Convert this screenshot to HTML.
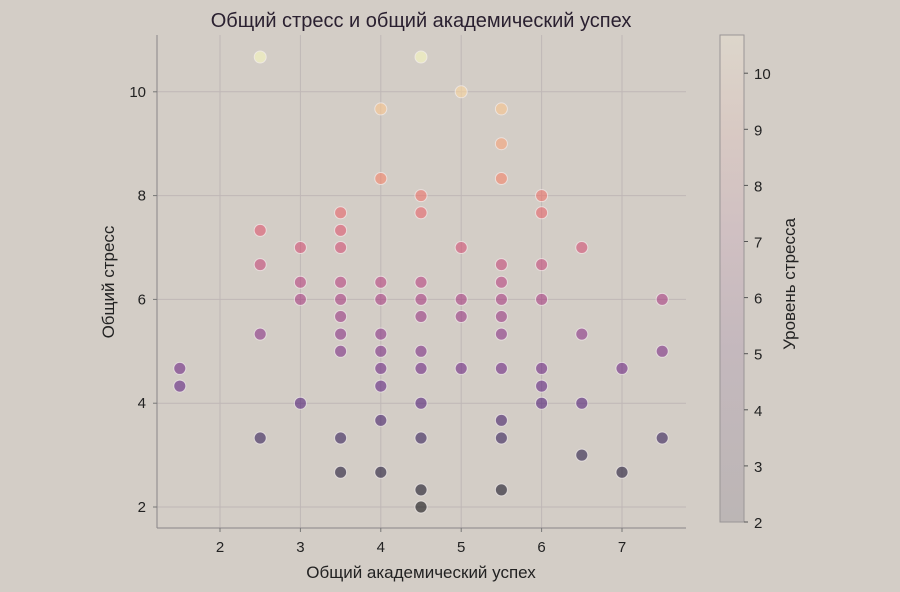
<!DOCTYPE html>
<html><head><meta charset="utf-8"><style>
body{margin:0;background:#d3cdc6;}
svg{display:block;font-family:"Liberation Sans","DejaVu Sans",sans-serif;}
</style></head><body>
<svg id="s" width="900" height="592" xmlns="http://www.w3.org/2000/svg">
<defs><linearGradient id="cb" x1="0" y1="1" x2="0" y2="0">
<stop offset="0" stop-color="#bcb6b5"/><stop offset="0.35" stop-color="#c4b8bd"/>
<stop offset="0.6" stop-color="#d0c0c2"/><stop offset="0.8" stop-color="#d8c9c3"/>
<stop offset="1" stop-color="#ddd6cb"/></linearGradient></defs>
<rect width="900" height="592" fill="#d3cdc6"/>
<text x="421" y="27" font-size="20" text-anchor="middle" fill="#2a2030">Общий стресс и общий академический успех</text>
<g id="grid" stroke="#b0a6aa" stroke-width="1" opacity="0.55"></g>
<line x1="157" y1="35" x2="157" y2="528" stroke="#8a8588"/>
<line x1="157" y1="528" x2="686" y2="528" stroke="#8a8588"/>
<g id="ticks" font-size="15" fill="#222"></g>
<g id="pts"></g>
<text x="421" y="578" font-size="17" text-anchor="middle" fill="#222">Общий академический успех</text>
<text transform="translate(114,282) rotate(-90)" font-size="17" text-anchor="middle" fill="#222">Общий стресс</text>
<rect x="720" y="35" width="24" height="487" fill="url(#cb)" stroke="#9a9596"/>
<g id="cbt" font-size="15" fill="#222"></g>
<text transform="translate(795,284) rotate(-90)" font-size="17" text-anchor="middle" fill="#222">Уровень стресса</text>
</svg>
<script>
const NS="http://www.w3.org/2000/svg",s=document.getElementById('s');
function el(p,t,a,txt){const e=document.createElementNS(NS,t);for(const k in a)e.setAttribute(k,a[k]);if(txt!==undefined)e.textContent=txt;document.getElementById(p).appendChild(e);}
const X=v=>220+(v-2)*80.4, Y=v=>507-(v-2)*51.9;
for(let v=2;v<=7;v++){el('grid','line',{x1:X(v),x2:X(v),y1:35,y2:528});el('ticks','text',{x:X(v),y:552,'text-anchor':'middle'},v);el('ticks','line',{x1:X(v),x2:X(v),y1:528,y2:532,stroke:'#777'});}
for(let v=2;v<=10;v+=2){el('grid','line',{x1:157,x2:686,y1:Y(v),y2:Y(v)});el('ticks','text',{x:146,y:Y(v)+5,'text-anchor':'end'},v);el('ticks','line',{x1:153,x2:157,y1:Y(v),y2:Y(v),stroke:'#777'});}
for(let v=2;v<=10;v++){const y=522-(v-2)*56.1;el('cbt','line',{x1:744,x2:748,y1:y,y2:y,stroke:'#555'});el('cbt','text',{x:754,y:y+6},v);}
const D={1.5:[4.67,4.33],2.5:[10.67,7.33,6.67,5.33,3.33],3:[7,6.33,6,4],3.5:[7.67,7.33,7,6.33,6,5.67,5.33,5,3.33,2.67],4:[9.67,8.33,6.33,6,5.33,5,4.67,4.33,3.67,2.67],4.5:[10.67,8,7.67,6.33,6,5.67,5,4.67,4,3.33,2.33,2],5:[10,7,6,5.67,4.67],5.5:[9.67,9,8.33,6.67,6.33,6,5.67,5.33,4.67,3.67,3.33,2.33],6:[8,7.67,6.67,6,4.67,4.33,4],6.5:[7,5.33,4,3],7:[4.67,2.67],7.5:[6,5,3.33]};
const M=[[0,0,0,4],[.13,28,16,68],[.25,79,18,123],[.38,129,37,129],[.5,181,54,122],[.63,229,80,100],[.75,251,135,97],[.88,254,194,135],[1,252,253,191]];
function mg(t){for(let i=1;i<M.length;i++)if(t<=M[i][0]){const a=M[i-1],b=M[i],f=(t-a[0])/(b[0]-a[0]);return 'rgb('+[1,2,3].map(j=>Math.round(a[j]+(b[j]-a[j])*f)).join(',')+')';}return 'rgb(252,253,191)';}
for(const k in D)for(const y of D[k]){const t=(y-2)/8.67;el('pts','circle',{cx:X(+k),cy:Y(y),r:6,fill:mg(t),'fill-opacity':0.55,stroke:'#f4eeee','stroke-opacity':0.7,'stroke-width':1});}
</script>
</body></html>
